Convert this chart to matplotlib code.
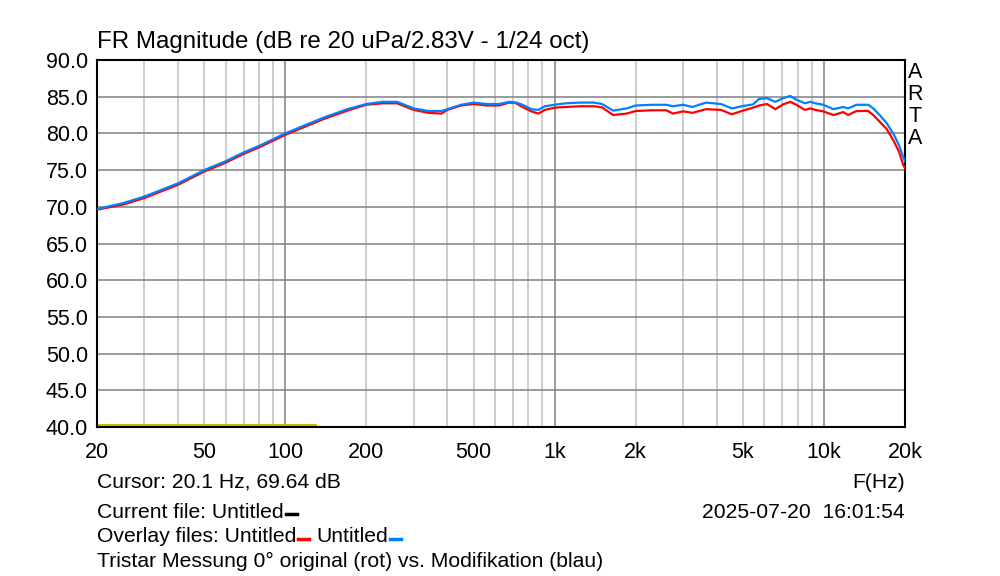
import numpy as np
import matplotlib
matplotlib.use('Agg')
import matplotlib.pyplot as plt
from matplotlib.ticker import FixedLocator, NullFormatter
from matplotlib.lines import Line2D

plt.rcParams['font.family'] = ['Liberation Sans', 'DejaVu Sans']

# frequency response
freq = [20, 25, 30, 40, 50, 60, 70, 80, 90, 100, 120, 140, 170, 200, 230, 260,
        300, 340, 380, 400, 450, 500, 560, 620, 680, 720, 760, 820, 870, 920,
        1000, 1100, 1250, 1400, 1500, 1650, 1850, 2000, 2300, 2600, 2750, 3000,
        3250, 3650, 4150, 4550, 4950, 5450, 5750, 6150, 6600, 7050, 7500, 7900,
        8500, 8900, 9300, 9950, 10850, 11800, 12300, 13200, 14600, 15250, 16100,
        17100, 18200, 19000, 19700, 20000]

blue_db = [69.7, 70.5, 71.4, 73.2, 75.0, 76.2, 77.4, 78.3, 79.2, 80.0, 81.2, 82.2,
           83.3, 84.0, 84.3, 84.3, 83.4, 83.05, 83.05, 83.3, 83.9, 84.2, 84.0, 84.0,
           84.3, 84.2, 83.9, 83.3, 83.2, 83.7, 83.9, 84.1, 84.2, 84.2, 84.0, 83.1,
           83.4, 83.8, 83.9, 83.9, 83.7, 83.9, 83.6, 84.2, 84.0, 83.4, 83.7, 83.95,
           84.7, 84.8, 84.3, 84.8, 85.1, 84.6, 84.1, 84.3, 84.1, 83.9, 83.3, 83.6,
           83.4, 83.9, 83.9, 83.4, 82.5, 81.4, 79.8, 78.4, 76.8, 76.2]

red_db = [69.6, 70.3, 71.2, 73.0, 74.8, 76.0, 77.2, 78.1, 79.0, 79.8, 81.0, 82.0,
          83.1, 83.9, 84.1, 84.1, 83.2, 82.8, 82.7, 83.2, 83.8, 84.0, 83.8, 83.8,
          84.2, 84.1, 83.6, 83.0, 82.7, 83.2, 83.5, 83.6, 83.7, 83.7, 83.55, 82.5,
          82.7, 83.05, 83.15, 83.15, 82.7, 83.0, 82.8, 83.3, 83.2, 82.6, 83.05, 83.5,
          83.8, 84.0, 83.3, 83.95, 84.3, 83.9, 83.2, 83.4, 83.2, 83.0, 82.5, 82.9,
          82.5, 83.05, 83.05, 82.5, 81.6, 80.6, 78.9, 77.5, 75.7, 75.3]

# yellow marker line near the bottom
marker_f = [20, 129]
marker_db = [40.3, 40.3]

xticks = [20, 50, 100, 200, 500, 1000, 2000, 5000, 10000, 20000]
xticklabels = ['20', '50', '100', '200', '500', '1k', '2k', '5k', '10k', '20k']
yticks = [40, 45, 50, 55, 60, 65, 70, 75, 80, 85, 90]

fig = plt.figure(figsize=(10, 5.76), dpi=100)
ax = fig.add_axes([0.097, 1 - 427 / 576, 0.808, 367 / 576])

ax.set_xscale('log')
ax.set_xlim(20, 20000)
ax.set_ylim(40, 90)

# grid: minor light, decades and dB lines darker
minor = [f * d for d in (10, 100, 1000) for f in range(2, 10)] + [f for f in range(30, 100, 10)]
for f in sorted(set(minor)):
    if 20 < f < 20000:
        ax.axvline(f, color='#c0c0c0', lw=1.1, zorder=1)
for f in (100, 1000, 10000):
    ax.axvline(f, color='#808080', lw=1.1, zorder=1)
for y in yticks[1:-1]:
    ax.axhline(y, color='#808080', lw=1.1, zorder=1)

ax.plot(marker_f, marker_db, color='#c0c000', lw=2.2, zorder=2)
ax.plot(freq, red_db, color='#ff0000', lw=1.6, zorder=3)
ax.plot(freq, blue_db, color='#0080ff', lw=1.6, zorder=4)

ax.xaxis.set_major_locator(FixedLocator(xticks))
ax.set_xticklabels(xticklabels)
ax.xaxis.set_minor_formatter(NullFormatter())
ax.set_yticks(yticks)
ax.set_yticklabels(['%.1f' % y for y in yticks])
ax.tick_params(which='both', length=0, labelsize=15.5)
ax.tick_params(axis='y', pad=6.5)
ax.tick_params(axis='x', pad=11)
for s in ax.spines.values():
    s.set_linewidth(1.5)
    s.set_color('black')

fs = 15.2
fig.text(0.097, 1 - 42 / 576, 'FR Magnitude (dB re 20 uPa/2.83V - 1/24 oct)',
         fontsize=17.4, va='center', ha='left')
for i, ch in enumerate('ARTA'):
    fig.text(0.915, 1 - (73 + i * 22) / 576, ch, fontsize=15.5, va='center', ha='center')

fig.text(0.097, 1 - 482 / 576, 'Cursor: 20.1 Hz, 69.64 dB', fontsize=fs, va='center')
fig.text(0.905, 1 - 482 / 576, 'F(Hz)', fontsize=fs, va='center', ha='right')
t_cur = fig.text(0.097, 1 - 512 / 576, 'Current file: Untitled', fontsize=fs, va='center')
fig.text(0.905, 1 - 512 / 576, '2025-07-20  16:01:54', fontsize=fs, va='center', ha='right')
t_ov1 = fig.text(0.097, 1 - 537 / 576, 'Overlay files: Untitled', fontsize=fs, va='center')
fig.text(0.097, 1 - 561 / 576, 'Tristar Messung 0° original (rot) vs. Modifikation (blau)',
         fontsize=fs, va='center')

fig.canvas.draw()
r = fig.canvas.get_renderer()


def dash_after(t, color, y_px):
    bb = t.get_window_extent(renderer=r)
    x0 = bb.x1 + 2
    y = 1 - y_px / 576
    fig.add_artist(Line2D([x0 / 1000, (x0 + 11) / 1000], [y, y], color=color, lw=2.5))
    return x0 + 11


dash_after(t_cur, 'black', 514)
xe = dash_after(t_ov1, '#ff0000', 539)
t_ov2 = fig.text((xe + 7) / 1000, 1 - 537 / 576, 'Untitled', fontsize=fs, va='center')
fig.canvas.draw()
dash_after(t_ov2, '#0080ff', 539)

fig.savefig('out.png', dpi=100)
